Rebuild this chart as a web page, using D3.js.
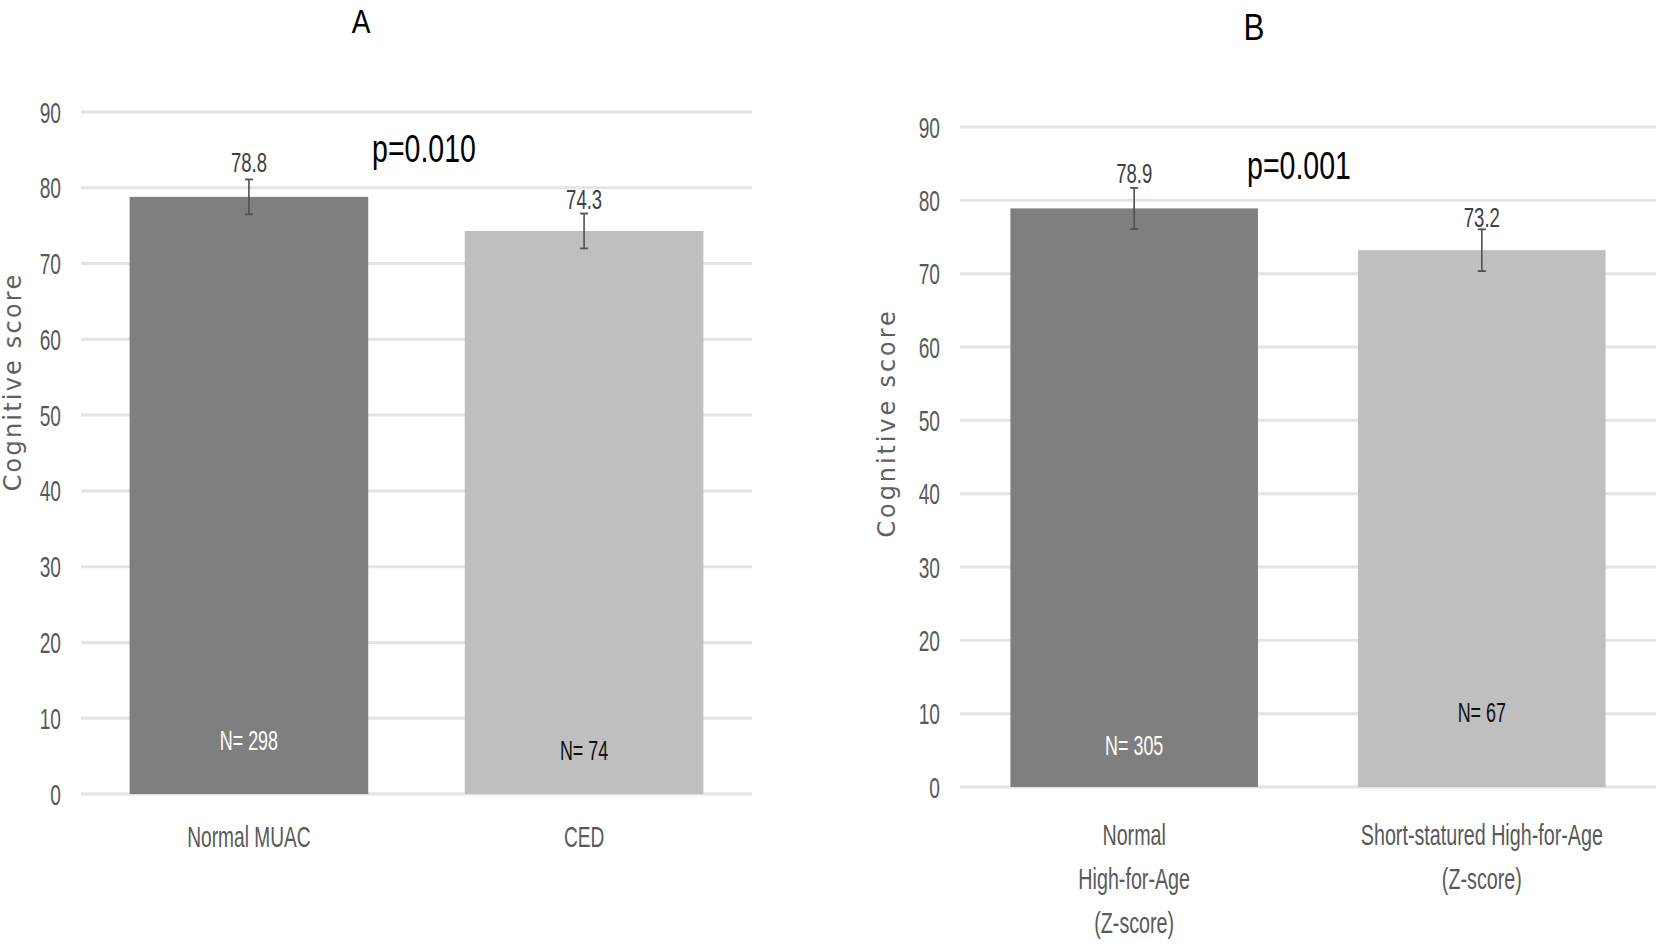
<!DOCTYPE html>
<html><head><meta charset="utf-8">
<script src="https://cdn.jsdelivr.net/npm/d3@7"></script>
<style>
body{margin:0;background:#fff;}
svg text{font-family:"Liberation Sans",Arial,sans-serif;}
</style></head>
<body><svg id="c" width="1659" height="944"></svg>
<script>
const panelTitles = ["A", "B"];
const categoriesA = [["Normal MUAC"], ["CED"]];
const valuesA = [78.8, 74.3];
const errorsA = [2.3, 2.3];
const nLabelsA = ["N= 298", "N= 74"];
const pValueA = "p=0.010";
const categoriesB = [["Normal", "High-for-Age", "(Z-score)"], ["Short-statured High-for-Age", "(Z-score)"]];
const valuesB = [78.9, 73.2];
const errorsB = [2.8, 2.85];
const nLabelsB = ["N= 305", "N= 67"];
const pValueB = "p=0.001";
const yTicks = [0, 10, 20, 30, 40, 50, 60, 70, 80, 90];
const yTitle = "Cognitive score";
const barColors = ["#7f7f7f", "#bfbfbf"];
const nColors = ["#ffffff", "#111111"];

const NARROW = 0.66;
const svg = d3.select("#c");

function txt(g, x, y, s, size, sx, fill, anchor) {
  return g.append("text")
    .attr("transform", `translate(${x},${y}) scale(${sx},1)`)
    .attr("text-anchor", anchor || "middle")
    .attr("dominant-baseline", "central")
    .attr("font-size", size).attr("fill", fill).text(s);
}

function panel(cfg) {
  const g = svg.append("g");
  const y = d3.scaleLinear().domain([0, 90]).range([cfg.y0, cfg.y90]);
  const x = d3.scaleBand().domain(d3.range(cfg.values.length)).range([cfg.x0, cfg.x1])
    .paddingInner(0.288).paddingOuter(0.145);
  // gridlines
  g.selectAll(".grid").data(yTicks).join("line")
    .attr("x1", cfg.x0).attr("x2", cfg.x1)
    .attr("y1", d => y(d)).attr("y2", d => y(d))
    .attr("stroke", "#e4e4e4").attr("stroke-width", 3);
  // y tick labels
  const ax = d3.axisLeft(y).tickValues(yTicks).tickSize(0);
  const axg = g.append("g").attr("transform", `translate(${cfg.x0},0)`).call(ax);
  axg.select(".domain").remove();
  axg.selectAll("text")
    .attr("x", 0).attr("dy", null)
    .attr("dominant-baseline", "central")
    .attr("text-anchor", "end")
    .attr("transform", `translate(-20,0) scale(${NARROW},1)`)
    .attr("font-size", 29).attr("fill", "#595959")
    .style("font-family", '"Liberation Sans",Arial,sans-serif');
  // bars
  g.selectAll(".bar").data(cfg.values).join("rect")
    .attr("x", (d, i) => x(i)).attr("width", x.bandwidth())
    .attr("y", d => y(d)).attr("height", d => y(0) - y(d))
    .attr("fill", (d, i) => barColors[i]);
  // error bars and labels
  cfg.values.forEach((v, i) => {
    const cx = x(i) + x.bandwidth() / 2;
    const e = cfg.errors[i];
    g.append("line").attr("x1", cx).attr("x2", cx).attr("y1", y(v + e)).attr("y2", y(v - e))
      .attr("stroke", "#505050").attr("stroke-width", 1.6);
    [v + e, v - e].forEach(t => g.append("line").attr("x1", cx - 4).attr("x2", cx + 4)
      .attr("y1", y(t)).attr("y2", y(t)).attr("stroke", "#505050").attr("stroke-width", 1.8));
    txt(g, cx, y(v) - cfg.valOff[i], v.toFixed(1), 28, NARROW, "#404040");
    txt(g, cx, y(cfg.nPos[i]), cfg.nLabels[i], 28, 0.64, nColors[i]);
    cfg.cats[i].forEach((line, k) => {
      txt(g, cx, cfg.catY + k * 44, line, 29, cfg.catScale, "#595959");
    });
  });
  // p value
  txt(g, cfg.pX, cfg.pY, cfg.p, 38, 0.75, "#000");
  // title
  txt(g, cfg.titleX, cfg.titleY, cfg.title, cfg.titleSize, 0.85, "#000");
  // y axis title
  g.append("text").attr("transform", `translate(${cfg.ytX},${cfg.ytY}) rotate(-90)`).attr("text-anchor", "middle")
    .attr("dominant-baseline", "central").attr("font-size", 24).attr("fill", "#606060")
    .style("font-family", '"DejaVu Sans",sans-serif').style("letter-spacing", cfg.ytSpacing + "px").text(yTitle);
}

panel({values: valuesA, errors: errorsA, nLabels: nLabelsA, cats: categoriesA, p: pValueA, title: panelTitles[0],
  x0: 81, x1: 752, y0: 794, y90: 112, valOff: [34, 31], catScale: 0.66,
  nPos: [7.0, 5.7], catY: 837, pX: 424, pY: 149, titleX: 361, titleY: 21, titleSize: 33,
  ytX: 13, ytY: 382, ytSpacing: 2.2});
panel({values: valuesB, errors: errorsB, nLabels: nLabelsB, cats: categoriesB, p: pValueB, title: panelTitles[1],
  x0: 960, x1: 1656, y0: 787, y90: 127, valOff: [35, 33], catScale: 0.68,
  nPos: [5.7, 10.2], catY: 835, pX: 1299, pY: 166, titleX: 1254, titleY: 27, titleSize: 37,
  ytX: 887, ytY: 423, ytSpacing: 2.9});
</script></body></html>
